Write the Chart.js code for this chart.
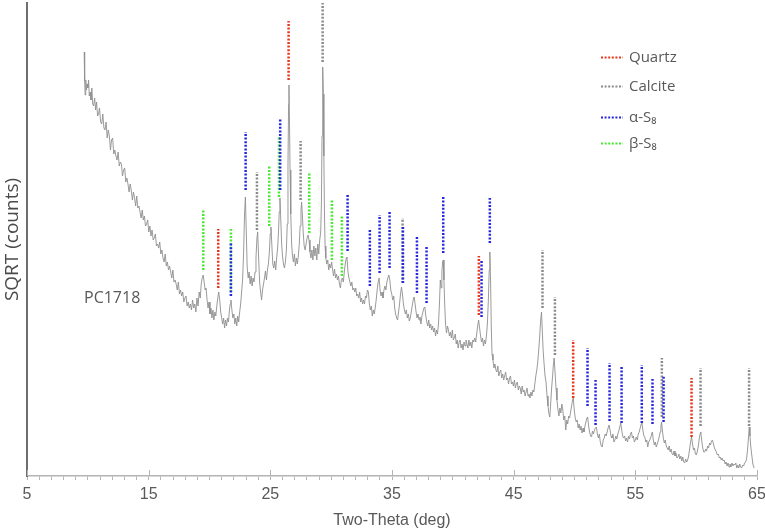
<!DOCTYPE html>
<html>
<head>
<meta charset="UTF-8">
<title>PC1718 XRD</title>
<script src="https://cdn.jsdelivr.net/npm/chart.js@4.4.0/dist/chart.umd.min.js"></script>
<style>
  html, body { margin: 0; padding: 0; background: #fff; }
  #xrd { display: block; }
</style>
</head>
<body>
<canvas id="xrd" width="765" height="532"></canvas>
<script>
// measured trace: [two-theta (deg), sqrt counts (arb.)]
const trace = [
  [9.70,424],[9.74,395],[9.78,381],[9.83,396],[9.88,386],[9.94,392],[10.00,388],[10.06,396],[10.12,380],[10.19,384],
  [10.26,376],[10.33,388],[10.40,372],[10.48,370],[10.56,378],[10.64,366],[10.72,374],[10.80,360],[10.88,362],[10.96,368],
  [11.05,354],[11.14,352],[11.23,362],[11.32,348],[11.41,346],[11.50,354],[11.59,338],[11.68,346],[11.77,340],[11.86,326],
  [11.95,336],[12.04,338],[12.13,322],[12.22,326],[12.31,320],[12.40,316],[12.49,324],[12.58,310],[12.67,314],[12.76,312],
  [12.85,300],[12.94,306],[13.03,308],[13.12,294],[13.21,298],[13.30,292],[13.39,284],[13.48,292],[13.57,286],[13.66,276],
  [13.75,284],[13.84,278],[13.93,270],[14.02,280],[14.11,268],[14.20,270],[14.29,264],[14.38,258],[14.47,266],[14.56,256],
  [14.65,260],[14.74,250],[14.83,252],[14.92,256],[15.01,244],[15.10,250],[15.19,240],[15.28,246],[15.37,236],[15.46,238],
  [15.55,242],[15.64,230],[15.73,232],[15.82,228],[15.91,234],[16.00,222],[16.09,226],[16.18,218],[16.27,214],[16.36,222],
  [16.45,210],[16.54,214],[16.63,206],[16.72,210],[16.81,204],[16.90,198],[16.99,206],[17.08,194],[17.17,196],[17.26,192],
  [17.35,186],[17.44,194],[17.53,182],[17.62,186],[17.71,180],[17.80,184],[17.89,174],[17.98,178],[18.07,180],[18.16,170],
  [18.25,174],[18.34,168],[18.43,172],[18.52,166],[18.61,176],[18.70,168],[18.79,172],[18.88,164],[18.97,178],[19.06,170],
  [19.15,184],[19.24,178],[19.32,192],[19.40,198],[19.48,201],[19.56,194],[19.64,186],[19.72,188],[19.80,176],[19.88,168],
  [19.96,174],[20.04,162],[20.12,168],[20.20,158],[20.28,166],[20.36,156],[20.44,164],[20.52,160],[20.60,170],[20.68,178],
  [20.76,184],[20.84,176],[20.92,164],[21.00,158],[21.08,152],[21.16,158],[21.24,148],[21.32,156],[21.40,150],[21.48,158],
  [21.56,154],[21.64,166],[21.70,172],[21.76,176],[21.84,166],[21.92,158],[22.00,162],[22.08,152],[22.16,158],[22.24,150],
  [22.32,160],[22.40,154],[22.48,164],[22.56,172],[22.64,184],[22.72,196],[22.80,222],[22.88,262],[22.95,279],[23.02,246],
  [23.10,208],[23.18,198],[23.26,204],[23.34,192],[23.42,200],[23.50,190],[23.58,198],[23.66,194],[23.74,204],[23.82,218],
  [23.90,238],[23.96,244],[24.04,218],[24.12,194],[24.20,184],[24.28,176],[24.36,186],[24.44,192],[24.52,198],[24.60,205],
  [24.68,196],[24.76,206],[24.84,212],[24.92,224],[24.99,242],[25.05,249],[25.12,232],[25.20,212],[25.28,208],[25.36,215],
  [25.44,206],[25.52,218],[25.60,228],[25.67,244],[25.73,264],[25.79,278],[25.86,256],[25.93,232],[26.00,220],[26.08,212],
  [26.16,208],[26.24,214],[26.32,226],[26.39,252],[26.45,310],[26.50,372],[26.53,391],[26.57,360],[26.62,306],[26.68,262],
  [26.75,232],[26.82,220],[26.90,214],[26.98,222],[27.06,210],[27.14,218],[27.22,212],[27.30,220],[27.38,232],[27.45,250],
  [27.52,266],[27.57,274],[27.63,262],[27.70,244],[27.78,230],[27.86,226],[27.94,232],[28.02,238],[28.10,241],[28.18,236],
  [28.26,224],[28.34,218],[28.42,226],[28.50,216],[28.58,230],[28.66,220],[28.74,228],[28.82,216],[28.90,232],[28.98,222],
  [29.06,236],[29.14,244],[29.20,274],[29.25,340],[29.29,395],[29.32,409],[29.36,382],[29.40,320],[29.45,262],[29.50,230],
  [29.56,218],[29.64,212],[29.72,216],[29.80,206],[29.88,212],[29.96,208],[30.04,214],[30.12,206],[30.20,200],[30.28,207],
  [30.36,198],[30.44,202],[30.52,196],[30.60,200],[30.68,192],[30.76,188],[30.84,196],[30.92,198],[31.00,194],[31.08,204],
  [31.16,212],[31.24,218],[31.30,219],[31.38,204],[31.46,198],[31.54,194],[31.62,190],[31.70,194],[31.78,186],[31.86,188],
  [31.94,184],[32.02,188],[32.10,180],[32.18,182],[32.26,178],[32.34,184],[32.42,174],[32.50,178],[32.58,172],[32.66,176],
  [32.74,172],[32.82,180],[32.90,178],[32.98,186],[33.06,184],[33.14,172],[33.22,166],[33.30,170],[33.38,160],[33.46,166],
  [33.54,162],[33.62,168],[33.70,176],[33.78,186],[33.86,194],[33.94,198],[34.02,186],[34.10,180],[34.18,184],[34.26,178],
  [34.34,186],[34.42,190],[34.50,186],[34.58,194],[34.66,198],[34.74,201],[34.82,196],[34.90,186],[34.98,182],[35.06,176],
  [35.14,180],[35.22,168],[35.30,162],[35.38,158],[35.46,156],[35.54,164],[35.62,172],[35.70,182],[35.78,189],[35.86,182],
  [35.94,172],[36.02,166],[36.10,162],[36.18,166],[36.26,158],[36.34,162],[36.42,155],[36.50,158],[36.58,164],[36.66,170],
  [36.74,176],[36.82,179],[36.90,172],[36.98,164],[37.06,158],[37.14,162],[37.22,156],[37.30,159],[37.38,152],[37.46,160],
  [37.54,164],[37.62,168],[37.70,169],[37.78,160],[37.86,154],[37.94,150],[38.02,156],[38.10,148],[38.18,152],[38.26,146],
  [38.34,150],[38.42,144],[38.50,148],[38.58,140],[38.66,146],[38.74,142],[38.82,152],[38.90,172],[38.97,196],[39.04,188],
  [39.10,204],[39.16,214],[39.21,216],[39.27,196],[39.33,172],[39.40,152],[39.48,143],[39.56,150],[39.64,146],[39.72,140],
  [39.80,144],[39.88,138],[39.96,146],[40.04,136],[40.12,138],[40.20,142],[40.28,132],[40.36,136],[40.44,128],[40.52,134],
  [40.60,136],[40.68,128],[40.76,132],[40.84,126],[40.92,134],[41.00,130],[41.08,136],[41.16,132],[41.24,128],[41.32,136],
  [41.40,130],[41.48,134],[41.56,128],[41.64,136],[41.72,134],[41.80,138],[41.88,134],[41.96,142],[42.04,150],[42.12,156],
  [42.20,148],[42.28,140],[42.36,134],[42.44,138],[42.52,130],[42.60,136],[42.68,132],[42.76,140],[42.84,152],[42.92,176],
  [42.99,206],[43.04,224],[43.10,196],[43.16,150],[43.22,122],[43.30,116],[43.38,108],[43.46,112],[43.54,106],[43.62,104],
  [43.70,110],[43.78,100],[43.86,104],[43.94,106],[44.02,98],[44.10,102],[44.18,96],[44.26,100],[44.34,104],[44.42,96],
  [44.50,98],[44.58,92],[44.66,98],[44.74,100],[44.82,92],[44.90,94],[44.98,90],[45.06,96],[45.14,88],[45.22,92],
  [45.30,94],[45.38,86],[45.46,90],[45.54,88],[45.62,82],[45.70,90],[45.78,84],[45.86,86],[45.94,80],[46.02,84],
  [46.10,88],[46.18,80],[46.26,82],[46.34,78],[46.42,84],[46.50,80],[46.58,86],[46.66,84],[46.74,92],[46.82,100],
  [46.90,106],[46.98,114],[47.06,126],[47.14,140],[47.22,156],[47.29,164],[47.35,146],[47.42,126],[47.50,112],[47.58,100],
  [47.66,94],[47.74,80],[47.82,70],[47.90,62],[47.97,59],[48.04,72],[48.12,88],[48.20,100],[48.27,112],[48.33,118],
  [48.40,104],[48.48,88],[48.56,76],[48.64,66],[48.72,60],[48.80,68],[48.88,63],[48.96,72],[49.04,66],[49.12,56],
  [49.20,60],[49.28,46],[49.36,56],[49.44,52],[49.52,60],[49.60,58],[49.68,64],[49.76,70],[49.84,76],[49.90,78],
  [49.98,66],[50.06,58],[50.14,54],[50.22,56],[50.30,48],[50.38,52],[50.46,46],[50.54,50],[50.62,43],[50.70,48],
  [50.78,44],[50.86,50],[50.94,54],[51.02,58],[51.08,59],[51.16,50],[51.24,44],[51.32,40],[51.40,39],[51.48,45],
  [51.56,42],[51.64,46],[51.72,48],[51.80,49],[51.88,42],[51.96,38],[52.04,42],[52.12,34],[52.20,30],[52.28,29],
  [52.36,36],[52.44,38],[52.52,42],[52.60,40],[52.68,44],[52.76,48],[52.84,51],[52.92,46],[53.00,40],[53.08,38],
  [53.16,42],[53.24,34],[53.32,36],[53.40,40],[53.48,37],[53.56,42],[53.64,45],[53.72,49],[53.80,53],[53.88,46],
  [53.96,40],[54.04,38],[54.12,40],[54.20,35],[54.28,38],[54.36,34],[54.44,40],[54.52,37],[54.60,42],[54.68,44],
  [54.76,38],[54.84,40],[54.92,34],[55.00,36],[55.08,39],[55.16,36],[55.24,42],[55.32,44],[55.40,48],[55.48,52],
  [55.54,53],[55.62,46],[55.70,40],[55.78,39],[55.86,34],[55.94,36],[56.02,29],[56.10,34],[56.18,36],[56.26,38],
  [56.34,42],[56.40,44],[56.48,36],[56.56,31],[56.64,34],[56.72,29],[56.80,32],[56.88,35],[56.96,39],[57.04,44],
  [57.10,50],[57.16,54],[57.22,46],[57.30,38],[57.38,33],[57.46,36],[57.54,30],[57.62,28],[57.70,26],[57.78,30],
  [57.86,24],[57.94,27],[58.02,22],[58.10,21],[58.18,25],[58.26,20],[58.34,23],[58.42,18],[58.50,19],[58.58,22],
  [58.66,17],[58.74,20],[58.82,15],[58.90,19],[58.98,14],[59.06,13],[59.14,17],[59.22,14],[59.30,16],[59.38,20],
  [59.46,27],[59.54,34],[59.62,39],[59.70,32],[59.78,26],[59.86,28],[59.94,22],[60.02,21],[60.10,25],[60.18,30],
  [60.26,38],[60.34,43],[60.38,44],[60.46,35],[60.54,28],[60.62,24],[60.70,24],[60.78,27],[60.86,25],[60.94,30],
  [61.02,28],[61.10,33],[61.18,31],[61.26,35],[61.34,36],[61.42,32],[61.50,28],[61.58,26],[61.66,24],[61.74,21],
  [61.82,22],[61.90,18],[61.98,19],[62.06,16],[62.14,18],[62.22,15],[62.30,16],[62.38,12],[62.46,14],[62.54,10],
  [62.62,13],[62.70,9],[62.78,12],[62.86,9],[62.94,13],[63.02,10],[63.10,12],[63.18,11],[63.26,13],[63.34,8],
  [63.42,11],[63.50,8],[63.58,12],[63.66,9],[63.74,8],[63.82,11],[63.90,10],[63.98,13],[64.06,14],[64.14,17],
  [64.22,26],[64.30,38],[64.36,49],[64.42,40],[64.50,28],[64.58,20],[64.66,12],[64.76,8]
];

// reference peak markers: position (deg), bottom and top of the dotted line
const quartzPos  = [20.72, 26.50, 42.14, 49.89, 59.62];
const quartzLow  = [188, 396, 161, 78, 39];
const quartzHigh = [247, 455, 220, 136, 98];

const calcitePos  = [23.90, 27.49, 29.30, 35.87, 47.37, 48.39, 57.18, 60.36, 64.35];
const calciteLow  = [246, 276, 414, 193, 168, 121, 59, 50, 50];
const calciteHigh = [304, 335, 473, 258, 226, 179, 118, 108, 108];

const alphaPos  = [21.76, 22.97, 25.81, 31.35, 33.18, 33.98, 34.80, 35.90, 37.05, 37.84, 39.21, 42.36, 43.04, 51.07, 51.73, 52.88, 53.87, 55.53, 56.41, 57.32];
const alphaLow  = [180, 286, 286, 225, 190, 203, 208, 193, 183, 173, 223, 159, 233, 70, 51, 55, 53, 53, 52, 54];
const alphaHigh = [234, 344, 358, 282, 247, 261, 265, 250, 240, 230, 280, 216, 278, 128, 96, 113, 110, 111, 97, 100];

const betaPos  = [19.49, 21.76, 24.91, 25.71, 28.20, 30.06, 30.88];
const betaLow  = [206, 184, 250, 279, 243, 216, 200];
const betaHigh = [266, 247, 310, 340, 304, 276, 260];

const xLabels = [5, 15, 25, 35, 45, 55, 65];
const sampleName = 'PC1718';

const markerData = (pos, low, high) => {
  const pts = [];
  pos.forEach((p, i) => {
    pts.push({ x: p, y: low[i] }, { x: p, y: high[i] }, { x: p, y: null });
  });
  return pts;
};

const markerSet = (label, color, pos, low, high, order) => ({
  label: label,
  data: markerData(pos, low, high),
  borderColor: color,
  backgroundColor: color,
  borderWidth: 2.5,
  borderDash: [2, 1.6],
  pointRadius: 0,
  spanGaps: false,
  order: order,
  inLegend: true
});

const textFont = "'Open Sans', 'Noto Sans', sans-serif";
const axisFont = "'Liberation Sans Narrow', 'Liberation Sans', Arial, sans-serif";

// legend rows and sample label, drawn on the canvas
const extras = {
  id: 'extras',
  afterDraw(chart) {
    const ctx = chart.ctx;
    const area = chart.chartArea;
    const xs = chart.scales.x;
    ctx.save();

    // major ticks poke above the axis line
    ctx.strokeStyle = '#b4b4b4';
    ctx.lineWidth = 1;
    xLabels.forEach(v => {
      const px = Math.round(xs.getPixelForValue(v)) + 0.5;
      ctx.beginPath();
      ctx.moveTo(px, area.bottom - 6);
      ctx.lineTo(px, area.bottom);
      ctx.stroke();
    });

    const rows = [57, 86, 117, 143];
    ctx.font = '15px ' + textFont;
    ctx.textBaseline = 'middle';
    ctx.textAlign = 'left';
    chart.data.datasets.filter(d => d.inLegend).forEach((ds, i) => {
      const y = rows[i] + 0.5;
      ctx.strokeStyle = ds.borderColor;
      ctx.lineWidth = 2;
      ctx.setLineDash([2, 1.6]);
      ctx.beginPath();
      ctx.moveTo(601, y);
      ctx.lineTo(623, y);
      ctx.stroke();
      ctx.setLineDash([]);
      ctx.fillStyle = '#595959';
      ctx.fillText(ds.label, 629, y);
    });

    ctx.font = '16px ' + textFont;
    ctx.fillStyle = '#595959';
    ctx.fillText(sampleName, 84, 298);
    ctx.restore();
  }
};

Chart.defaults.font.family = textFont;
Chart.defaults.color = '#595959';

new Chart(document.getElementById('xrd'), {
  type: 'line',
  data: {
    datasets: [
      markerSet('Quartz', '#e8361c', quartzPos, quartzLow, quartzHigh, 2),
      markerSet('Calcite', '#8a8a8a', calcitePos, calciteLow, calciteHigh, 3),
      markerSet('\u03b1-S\u2088', '#2626e0', alphaPos, alphaLow, alphaHigh, 1),
      markerSet('\u03b2-S\u2088', '#46ea2e', betaPos, betaLow, betaHigh, 4),
      {
        label: sampleName,
        data: trace.map(p => ({ x: p[0], y: p[1] })),
        borderColor: '#8f8f8f',
        borderWidth: 0.9,
        pointRadius: 0,
        tension: 0,
        order: 5
      }
    ]
  },
  options: {
    responsive: false,
    animation: false,
    devicePixelRatio: 1,
    layout: { padding: { top: 3, right: 8, left: 0, bottom: 0 } },
    plugins: {
      legend: { display: false },
      tooltip: { enabled: false }
    },
    scales: {
      x: {
        type: 'linear',
        min: 5,
        max: 65,
        afterFit: s => { s.height = 56; s.paddingLeft = 0; s.paddingRight = 0; },
        ticks: {
          stepSize: 1,
          autoSkip: false,
          maxRotation: 0,
          padding: 5,
          color: '#595959',
          font: { family: axisFont, size: 16 },
          callback: v => (xLabels.includes(v) ? String(v) : '')
        },
        grid: {
          drawOnChartArea: false,
          drawTicks: true,
          tickLength: 4,
          color: '#b4b4b4'
        },
        border: { display: true, color: '#b4b4b4', width: 1.5 },
        title: {
          display: true,
          text: 'Two-Theta (deg)',
          color: '#595959',
          font: { family: axisFont, size: 16 },
          padding: { top: 0, bottom: 2 }
        }
      },
      y: {
        type: 'linear',
        min: 0,
        max: 473,
        afterFit: s => { s.width = 27; },
        ticks: { display: false },
        grid: { display: false, drawTicks: false },
        border: { display: true, color: '#6e6e6e', width: 2 },
        title: {
          display: true,
          text: 'SQRT (counts)',
          color: '#4a4a4a',
          font: { family: textFont, size: 19 },
          padding: { top: 1, bottom: 0 }
        }
      }
    }
  },
  plugins: [extras]
});
</script>
</body>
</html>
